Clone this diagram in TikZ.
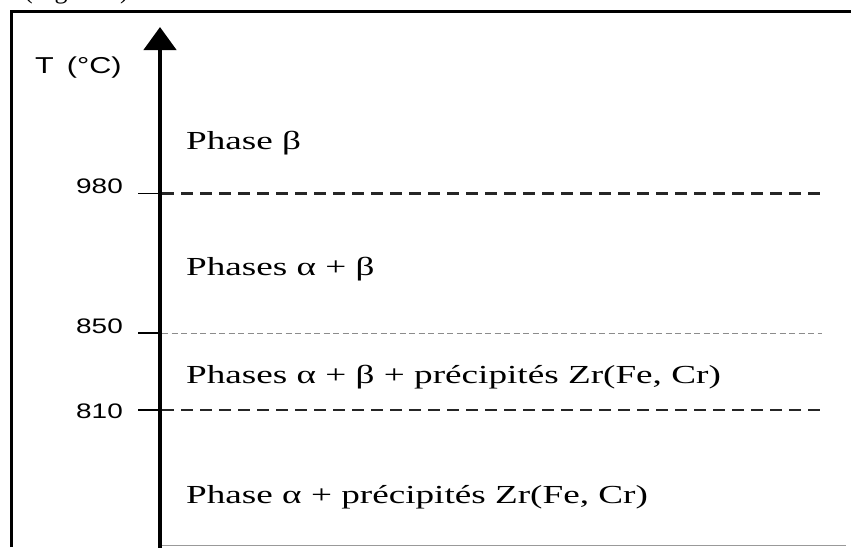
\documentclass[tikz,border=0pt]{standalone}
\usepackage{fontspec}
\setmainfont{Liberation Serif}
\newfontfamily\wideserif[FakeStretch=1.43]{Liberation Serif}
\newfontfamily\widesans[FakeStretch=1.33]{Liberation Sans}
\usetikzlibrary{arrows.meta}
\tikzset{
  frameline/.style={line width=3.5pt, black},
  axisline/.style={line width=4.5pt, black, -{Triangle[length=23pt,width=32pt]}},
  tickline/.style={line width=1.6pt, black},
  levelthick/.style={line width=2.3pt, black!85, dash pattern=on 12pt off 7pt},
  levelthin/.style={line width=0.9pt, black!45, dash pattern=on 6pt off 3.5pt},
  phasetext/.style={font=\wideserif\fontsize{26}{30}\selectfont, inner sep=0pt, anchor=base west},
  numtext/.style={font=\widesans\fontsize{21}{24}\selectfont, inner sep=0pt, anchor=base east},
}
\begin{document}
\begin{tikzpicture}[x=1pt,y=-1pt]
\clip (0,0) rectangle (851,547);
\fill[white] (0,0) rectangle (851,547);
% cropped caption fragment at the top
\node[font=\fontsize{26}{30}\selectfont, inner sep=0pt, anchor=base west] (cap) at (24,-2) {(Figure 1)};
% frame
\coordinate (fbl) at (11.5,547);
\coordinate (ftl) at (11.5,11.5);
\coordinate (ftr) at (851,11.5);
\draw[frameline] (fbl) -- (ftl) -- (ftr);
\coordinate (bbl) at (158,545.5);
\coordinate (bbr) at (846,545.5);
\draw[line width=1.5pt, black!40] (bbl) -- (bbr);
% axis
\coordinate (abot) at (160,549);
\coordinate (atop) at (160,27);
\draw[axisline] (abot) -- (atop);
\node[font=\widesans\fontsize{23}{26}\selectfont, inner sep=0pt, anchor=base west] (tlab) at (35,73) {T\hspace{13pt}(°C)};
% levels
\coordinate (t980a) at (138,193.5);
\coordinate (t980b) at (162,193.5);
\coordinate (t980c) at (822,193.5);
\draw[tickline] (t980a) -- (t980b);
\draw[levelthick] (t980b) -- (t980c);
\node[numtext] (n980) at (123,193) {980};

\coordinate (t850a) at (138,333);
\coordinate (t850b) at (162,333);
\coordinate (t850c) at (822,333);
\draw[tickline] (t850a) -- (t850b);
\draw[levelthin] (t850b) -- (t850c);
\node[numtext] (n850) at (123,333) {850};

\coordinate (t810a) at (138,410);
\coordinate (t810b) at (162,410);
\coordinate (t810c) at (822,410);
\draw[tickline] (t810a) -- (t810b);
\draw[levelthick] (t810b) -- (t810c);
\node[numtext] (n810) at (123,418.5) {810};
% phase labels
\node[phasetext] (p1) at (186,149) {Phase β};
\node[phasetext] (p2) at (186,275) {Phases α + β};
\node[phasetext] (p3) at (186,383) {Phases α + β + précipités Zr(Fe, Cr)};
\node[phasetext] (p4) at (186,503) {Phase α + précipités Zr(Fe, Cr)};
\end{tikzpicture}
\end{document}
